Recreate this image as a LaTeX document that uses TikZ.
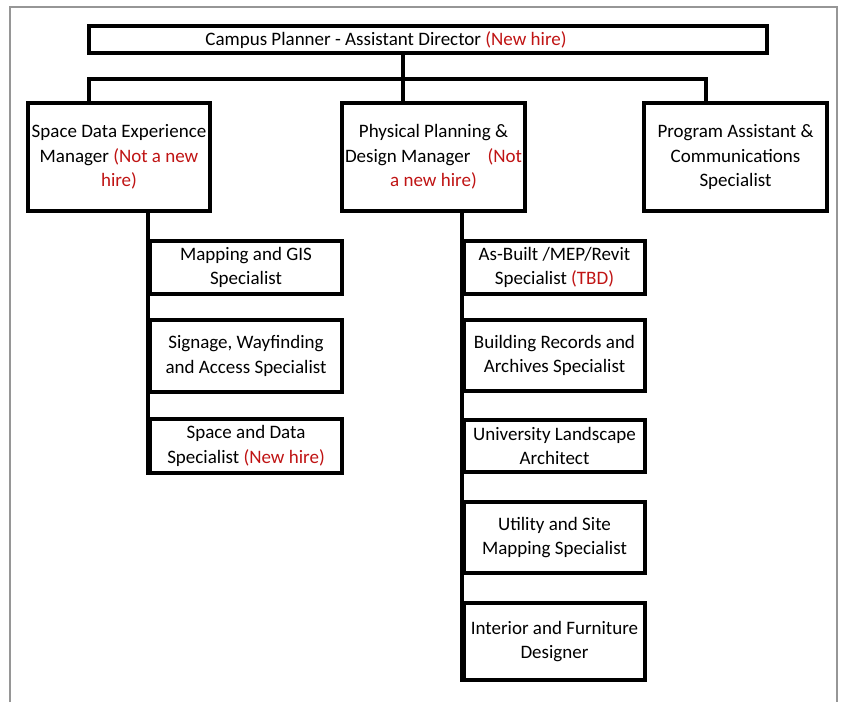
\documentclass[tikz,border=0pt]{standalone}
\usepackage{fontspec}
\setmainfont{Carlito}
\definecolor{hire}{RGB}{192,20,20}
\definecolor{framegray}{RGB}{150,150,150}
\begin{document}
\begin{tikzpicture}[x=1pt,y=-1pt,
  box/.style={draw=black,line width=4pt,rectangle,inner sep=0pt,align=center,
    font=\fontsize{19}{24.5}\selectfont,fill=white},
  conn/.style={draw=black,line width=4pt,line join=miter},
  lbl/.style={inner sep=0pt,align=center,font=\fontsize{19}{24.5}\selectfont}]
\useasboundingbox (0,0) rectangle (841,702);
% frame
\draw[framegray,line width=1.5pt] (10,702) -- (10,7) -- (837,7) -- (837,702);
% top
\node[box,minimum width=678pt,minimum height=27pt] (top) at (428,39.5) {};
\node[lbl] (toptxt) at (386,40) {Campus Planner - Assistant Director {\color{hire}(New hire)}};
% managers
\node[box,minimum width=182pt,minimum height=108pt] (sde) at (119,157)
  {Space Data Experience\\Manager {\color{hire}(Not a new}\\{\color{hire}hire)}};
\node[box,minimum width=183pt,minimum height=108pt] (ppd) at (433.5,157)
  {Physical Planning \&\\Design Manager\hspace{0.9em}{\color{hire}(Not}\\{\color{hire}a new hire)}};
\node[box,minimum width=183pt,minimum height=108pt] (pac) at (735.5,157)
  {Program Assistant \&\\Communications\\Specialist};
% connectors from top
\coordinate (j) at (403,79);
\coordinate (jl) at (89,79);
\coordinate (jr) at (706,79);
\draw[conn] (top.south -| j) -- (j |- ppd.north);
\draw[conn] (jl |- sde.north) -- (jl) -- (jr) -- (jr |- pac.north);
% left children
\node[box,minimum width=192pt,minimum height=53pt] (map) at (246,267.5)
  {Mapping and GIS\\Specialist};
\node[box,minimum width=192pt,minimum height=72pt] (sig) at (246,356)
  {Signage, Wayfinding\\and Access Specialist};
\node[box,minimum width=192pt,minimum height=54pt] (sdp) at (246,446)
  {Space and Data\\Specialist {\color{hire}(New hire)}};
% right children
\node[box,minimum width=181pt,minimum height=53pt] (asb) at (554.5,267.5)
  {As-Built /MEP/Revit\\Specialist {\color{hire}(TBD)}};
\node[box,minimum width=181pt,minimum height=71pt] (brs) at (554.5,355.5)
  {Building Records and\\Archives Specialist};
\node[box,minimum width=181pt,minimum height=52pt] (ula) at (554.5,446)
  {University Landscape\\Architect};
\node[box,minimum width=181pt,minimum height=71pt] (usm) at (554.5,537.5)
  {Utility and Site\\Mapping Specialist};
\node[box,minimum width=181pt,minimum height=77pt] (ifd) at (554.5,641.5)
  {Interior and Furniture\\Designer};
% spines
\draw[conn] (sde.south -| map.west) -- (sdp.south west);
\draw[conn] (ppd.south -| asb.west) -- (ifd.south west);
\end{tikzpicture}
\end{document}
